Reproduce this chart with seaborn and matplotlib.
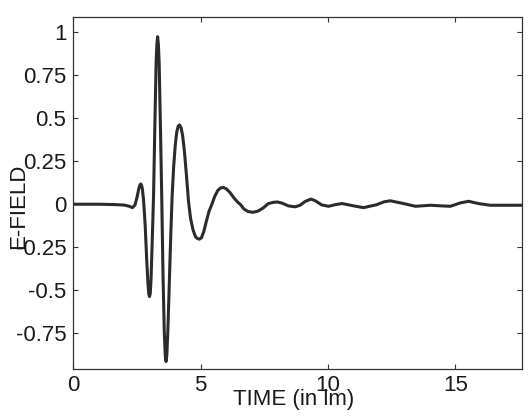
import matplotlib
matplotlib.use("Agg")
import matplotlib.pyplot as plt
import seaborn as sns
import pandas as pd

# Data
time_vals = [0.0, 1.0, 1.6, 2.0, 2.2, 2.32, 2.42, 2.5, 2.57, 2.61, 2.65, 2.68,
             2.71, 2.76, 2.82, 2.88, 2.93, 2.96, 2.99, 3.02, 3.05, 3.09, 3.15,
             3.2, 3.25, 3.28, 3.31, 3.34, 3.37, 3.42, 3.47, 3.52, 3.57, 3.61,
             3.64, 3.67, 3.71, 3.75, 3.79, 3.83, 3.88, 3.94, 4.00, 4.06, 4.12,
             4.17, 4.23, 4.29, 4.36, 4.44, 4.52, 4.60, 4.70, 4.80, 4.88, 4.95,
             5.03, 5.12, 5.22, 5.33, 5.44, 5.55, 5.67, 5.78, 5.89, 6.00, 6.15,
             6.30, 6.45, 6.55, 6.70, 6.85, 7.05, 7.25, 7.45, 7.66, 7.85, 8.02,
             8.20, 8.45, 8.71, 8.90, 9.10, 9.33, 9.50, 9.75, 10.02, 10.30, 10.55,
             10.95, 11.39, 11.90, 12.20, 12.44, 12.90, 13.43, 14.02, 14.50, 14.80,
             15.20, 15.52, 15.90, 16.37, 17.6]
efield_vals = [0.0, 0.0, -0.002, -0.005, -0.012, -0.02, -0.005, 0.04, 0.09, 0.11,
               0.118, 0.11, 0.09, 0.02, -0.12, -0.32, -0.46, -0.52, -0.537, -0.52,
               -0.44, -0.25, 0.05, 0.45, 0.82, 0.93, 0.974, 0.93, 0.82, 0.45, 0.05,
               -0.4, -0.74, -0.88, -0.915, -0.88, -0.74, -0.55, -0.35, -0.16, 0.05,
               0.22, 0.34, 0.42, 0.455, 0.461, 0.445, 0.40, 0.31, 0.17, 0.02, -0.08,
               -0.15, -0.19, -0.20, -0.203, -0.195, -0.16, -0.10, -0.04, 0.0, 0.045,
               0.08, 0.095, 0.097, 0.09, 0.068, 0.038, 0.012, 0.0, -0.028, -0.042,
               -0.047, -0.04, -0.022, 0.004, 0.011, 0.013, 0.006, -0.01, -0.015,
               -0.006, 0.016, 0.03, 0.02, -0.004, -0.012, -0.002, 0.004, -0.008,
               -0.02, -0.003, 0.014, 0.02, 0.006, -0.012, -0.006, -0.01, -0.012,
               0.008, 0.017, 0.004, -0.006, -0.006]

x_ticks = [0, 5, 10, 15]
x_tick_labels = ["0", "5", "10", "15"]
y_ticks = [-0.75, -0.5, -0.25, 0, 0.25, 0.5, 0.75, 1]
y_tick_labels = ["-0.75", "-0.5", "-0.25", "0", "0.25", "0.5", "0.75", "1"]
x_label = "TIME (in lm)"
y_label = "E-FIELD"

df = pd.DataFrame({"time": time_vals, "efield": efield_vals})

sns.set_theme(style="white")
plt.rcParams["font.family"] = ["Liberation Sans", "DejaVu Sans"]

fig = plt.figure(figsize=(5.32, 4.2), dpi=100)
ax = fig.add_axes([0.1378, 0.1207, 0.8428, 0.8381])

sns.lineplot(data=df, x="time", y="efield", ax=ax, color="#2b2b2b",
             linewidth=2.2, estimator=None, sort=False)

ax.set_xlim(0, 17.6)
ax.set_ylim(-0.96, 1.087)
ax.set_xticks(x_ticks)
ax.set_xticklabels(x_tick_labels)
ax.set_yticks(y_ticks)
ax.set_yticklabels(y_tick_labels)

ax.tick_params(axis="both", which="major", direction="in", length=3.5,
               width=0.8, color="#333333", labelsize=16, labelcolor="#1a1a1a",
               top=True, right=True, bottom=True, left=True)
ax.tick_params(axis="x", pad=4)
ax.tick_params(axis="y", pad=5)

for sp in ax.spines.values():
    sp.set_visible(True)
    sp.set_color("#333333")
    sp.set_linewidth(0.9)

ax.set_xlabel(x_label, fontsize=16, color="#1a1a1a")
ax.set_ylabel(y_label, fontsize=16, color="#1a1a1a")
ax.xaxis.set_label_coords(0.492, -0.056)
ax.yaxis.set_label_coords(-0.098, 0.464)
ax.grid(False)

fig.savefig("out.png", dpi=100, facecolor="white")
